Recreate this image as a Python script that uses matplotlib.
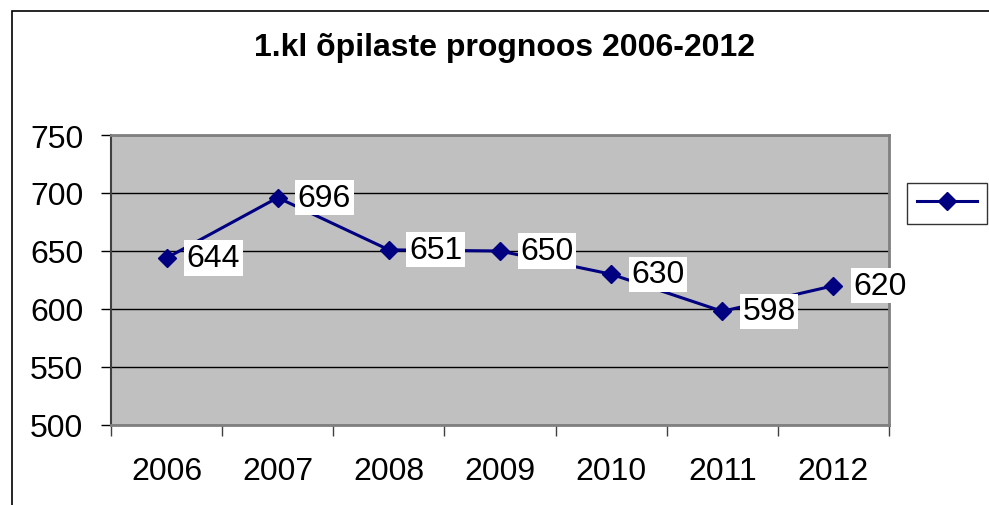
import matplotlib.pyplot as plt
from matplotlib import patches
from matplotlib.lines import Line2D

years = ["2006", "2007", "2008", "2009", "2010", "2011", "2012"]
students = [644, 696, 651, 650, 630, 598, 620]
y_ticks = [500, 550, 600, 650, 700, 750]

plt.rcParams['font.family'] = ['Liberation Sans', 'DejaVu Sans']

W, H = 989, 506
fig = plt.figure(figsize=(W / 100, H / 100), dpi=100)

# outer chart border (cropped on the right and bottom)
fig.patches.append(patches.Rectangle((12 / W, -0.1), 1.2, 1 - 12 / H + 0.1,
                                     transform=fig.transFigure, fill=False,
                                     edgecolor='black', linewidth=1.2))

left, right, top, bottom = 111, 889, 136, 426
ax = fig.add_axes([left / W, 1 - bottom / H, (right - left) / W, (bottom - top) / H])
ax.set_facecolor('#c0c0c0')

x = [i + 0.5 for i in range(len(years))]
ax.plot(x, students, color='#000080', linewidth=2.2, marker='D', markersize=9)

for xi, v in zip(x, students):
    ax.annotate(str(v), (xi, v), xytext=(14.5, 0), textcoords='offset points',
                fontsize=23, va='center', ha='left',
                bbox=dict(boxstyle='square,pad=0.08', facecolor='white', edgecolor='none'))

ax.set_xlim(0, len(years))
ax.set_ylim(500, 750)
ax.set_yticks(y_ticks)
ax.tick_params(axis='y', labelsize=23, length=7, width=1, pad=13)
ax.set_xticks(range(len(years) + 1))
ax.set_xticklabels([])
ax.set_xticks(x, minor=True)
ax.set_xticklabels(years, minor=True)
ax.tick_params(axis='x', which='major', length=8, width=1, color='#404040')
ax.tick_params(axis='x', which='minor', length=0, labelsize=23, pad=22)

ax.yaxis.grid(True, color='black', linewidth=1)
ax.set_axisbelow(True)
for side in ['top', 'right', 'bottom']:
    ax.spines[side].set_color('#808080')
    ax.spines[side].set_linewidth(2)
ax.spines['left'].set_color('#404040')
ax.spines['left'].set_linewidth(1.5)

fig.text(505 / W, 1 - 48 / H, "1.kl õpilaste prognoos 2006-2012",
         fontsize=23, fontweight='bold', ha='center', va='center')

# legend with no text, as in the original
handle = Line2D([], [], color='#000080', linewidth=2.2, marker='D', markersize=9)
leg = fig.legend(handles=[handle], labels=[''], loc='center',
                 bbox_to_anchor=(947 / W, 1 - 204 / H), frameon=True,
                 fancybox=False, edgecolor='black', handlelength=2.7,
                 borderpad=0.45, handletextpad=0, fontsize=16)
leg.get_frame().set_linewidth(1)

fig.savefig("out.png", dpi=100)
